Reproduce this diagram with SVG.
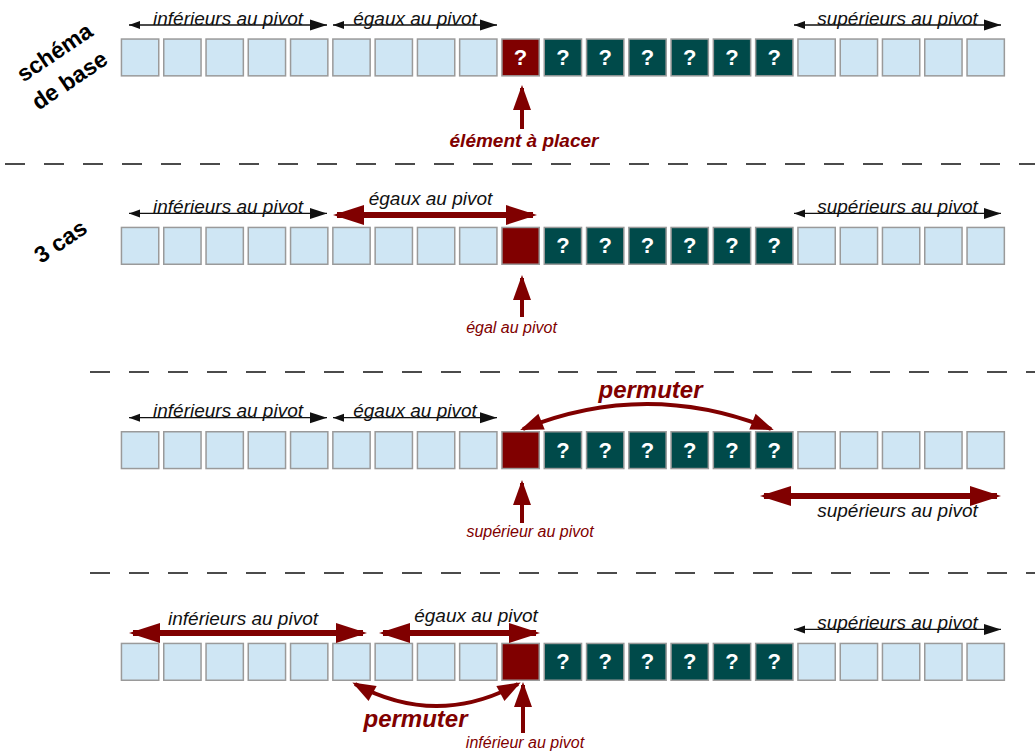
<svg xmlns="http://www.w3.org/2000/svg" width="1035" height="753" viewBox="0 0 1035 753">
<style>
.c{fill:#cfe6f4;stroke:#9a9a9a;stroke-width:1.5}
.p{fill:#800000;stroke:#9a9a9a;stroke-width:1.5}
.t{fill:#004a4a;stroke:#9a9a9a;stroke-width:1.5}
.q{font-family:"Liberation Sans",Arial,sans-serif;font-weight:bold;font-size:22px;fill:#fff;text-anchor:middle}
.lbl{font-family:"Liberation Sans",Arial,sans-serif;font-style:italic;font-size:19px;fill:#111;text-anchor:middle}
.rs{font-family:"Liberation Sans",Arial,sans-serif;font-style:italic;font-size:16px;fill:#800000;text-anchor:middle}
.rb{font-family:"Liberation Sans",Arial,sans-serif;font-style:italic;font-weight:bold;font-size:19px;fill:#800000;text-anchor:middle}
.perm{font-family:"Liberation Sans",Arial,sans-serif;font-style:italic;font-weight:bold;font-size:24px;fill:#800000;text-anchor:middle}
.side{font-family:"Liberation Sans",Arial,sans-serif;font-weight:bold;font-size:23px;fill:#000;text-anchor:middle}
.bk{fill:none;stroke:#111;stroke-width:1.3;marker-start:url(#bs);marker-end:url(#bl)}
.rd{fill:none;stroke:#800000;stroke-width:6;marker-start:url(#rh);marker-end:url(#rh)}
.up{fill:none;stroke:#800000;stroke-width:4;marker-end:url(#uh)}
.cv{fill:none;stroke:#800000;stroke-width:4;marker-start:url(#ch);marker-end:url(#ch)}
.dash{fill:none;stroke:#111;stroke-width:1.3;stroke-dasharray:20 19}
</style>
<defs>
<marker id="bs" markerUnits="userSpaceOnUse" orient="auto-start-reverse" overflow="visible" markerWidth="20" markerHeight="20" refX="0" refY="0"><path d="M0,0 L-11,-4 L-11,4 Z" fill="#111"/></marker>
<marker id="bl" markerUnits="userSpaceOnUse" orient="auto-start-reverse" overflow="visible" markerWidth="20" markerHeight="20" refX="0" refY="0"><path d="M0,0 L-17,-5.5 L-17,5.5 Z" fill="#111"/></marker>
<marker id="rh" markerUnits="userSpaceOnUse" orient="auto-start-reverse" overflow="visible" markerWidth="40" markerHeight="40" refX="0" refY="0"><path d="M4,0 L-27,-10 L-27,10 Z" fill="#800000"/></marker>
<marker id="uh" markerUnits="userSpaceOnUse" orient="auto" overflow="visible" markerWidth="40" markerHeight="40" refX="0" refY="0"><path d="M3,0 L-22,-9 L-22,9 Z" fill="#800000"/></marker>
<marker id="ch" markerUnits="userSpaceOnUse" orient="auto-start-reverse" overflow="visible" markerWidth="40" markerHeight="40" refX="0" refY="0"><path d="M3,0 L-20,-8.5 L-20,8.5 Z" fill="#800000"/></marker>
<g id="cells">
<rect class="c" x="121.45" y="0.75" width="37.3" height="36.8"/>
<rect class="c" x="163.75" y="0.75" width="37.3" height="36.8"/>
<rect class="c" x="206.05" y="0.75" width="37.3" height="36.8"/>
<rect class="c" x="248.25" y="0.75" width="37.3" height="36.8"/>
<rect class="c" x="290.55" y="0.75" width="37.3" height="36.8"/>
<rect class="c" x="332.85" y="0.75" width="37.3" height="36.8"/>
<rect class="c" x="375.15" y="0.75" width="37.3" height="36.8"/>
<rect class="c" x="417.45" y="0.75" width="37.3" height="36.8"/>
<rect class="c" x="459.65" y="0.75" width="37.3" height="36.8"/>
<rect class="p" x="501.95" y="0.75" width="37.3" height="36.8"/>
<rect class="t" x="544.25" y="0.75" width="37.3" height="36.8"/>
<rect class="t" x="586.55" y="0.75" width="37.3" height="36.8"/>
<rect class="t" x="628.85" y="0.75" width="37.3" height="36.8"/>
<rect class="t" x="671.05" y="0.75" width="37.3" height="36.8"/>
<rect class="t" x="713.35" y="0.75" width="37.3" height="36.8"/>
<rect class="t" x="755.65" y="0.75" width="37.3" height="36.8"/>
<rect class="c" x="797.95" y="0.75" width="37.3" height="36.8"/>
<rect class="c" x="840.25" y="0.75" width="37.3" height="36.8"/>
<rect class="c" x="882.45" y="0.75" width="37.3" height="36.8"/>
<rect class="c" x="924.75" y="0.75" width="37.3" height="36.8"/>
<rect class="c" x="967.05" y="0.75" width="37.3" height="36.8"/>
<text class="q" x="562.9" y="26.7">?</text>
<text class="q" x="605.2" y="26.7">?</text>
<text class="q" x="647.5" y="26.7">?</text>
<text class="q" x="689.7" y="26.7">?</text>
<text class="q" x="732.0" y="26.7">?</text>
<text class="q" x="774.3" y="26.7">?</text>
</g>
</defs>
<rect width="1035" height="753" fill="#fff"/>

<g id="side-labels">
<text class="side" transform="translate(55,53) rotate(-34)" x="0" y="7">schéma</text>
<text class="side" transform="translate(70,81) rotate(-34)" x="0" y="7">de base</text>
<text class="side" transform="translate(61,242) rotate(-34)" x="0" y="7">3 cas</text>
</g>

<g id="separators">
<path class="dash" d="M5,164 H1035"/>
<path class="dash" d="M90,372 H1035"/>
<path class="dash" d="M90,573 H1035"/>
</g>

<g id="row1" transform="translate(0,38.3)">
<use href="#cells"/>
<text class="q" x="520.6" y="26.7">?</text>
</g>
<g id="row2" transform="translate(0,226.7)"><use href="#cells"/></g>
<g id="row3" transform="translate(0,431)"><use href="#cells"/></g>
<g id="row4" transform="translate(0,642.7)"><use href="#cells"/></g>

<g id="connectors">
<path class="bk" d="M129,25 H327"/>
<path class="bk" d="M333,25 H497"/>
<path class="bk" d="M794,25 H1001"/>
<path class="up" d="M522,129 V88"/>
<path class="bk" d="M129,213.4 H327"/>
<path class="bk" d="M794,213.4 H1001"/>
<path class="rd" d="M337,215 H533"/>
<path class="up" d="M522,317 V278"/>
<path class="bk" d="M129,417.7 H327"/>
<path class="bk" d="M333,417.7 H497"/>
<path class="rd" d="M764,496 H997"/>
<path class="cv" d="M523,429 Q647,379 771,429"/>
<path class="up" d="M522,523 V483"/>
<path class="bk" d="M794,629.4 H1001"/>
<path class="rd" d="M133,633 H363"/>
<path class="rd" d="M383,633 H536"/>
<path class="cv" d="M518,684 Q436.5,728 355,684"/>
<path class="up" d="M523,733 V685"/>
</g>

<g id="labels">
<text class="lbl" x="228" y="24.5">inférieurs au pivot</text>
<text class="lbl" x="415" y="24.5">égaux au pivot</text>
<text class="lbl" x="897.5" y="24.5">supérieurs au pivot</text>
<text class="rb" x="524" y="147">élément à placer</text>
<text class="lbl" x="228" y="212.9">inférieurs au pivot</text>
<text class="lbl" x="897.5" y="212.9">supérieurs au pivot</text>
<text class="lbl" x="430.5" y="205">égaux au pivot</text>
<text class="rs" x="511.5" y="333">égal au pivot</text>
<text class="lbl" x="228" y="417.2">inférieurs au pivot</text>
<text class="lbl" x="415" y="417.2">égaux au pivot</text>
<text class="perm" x="650.5" y="398">permuter</text>
<text class="lbl" x="897.5" y="517">supérieurs au pivot</text>
<text class="rs" x="530" y="537">supérieur au pivot</text>
<text class="lbl" x="897.5" y="628.9">supérieurs au pivot</text>
<text class="lbl" x="243" y="625">inférieurs au pivot</text>
<text class="lbl" x="476" y="622">égaux au pivot</text>
<text class="perm" x="415.5" y="727">permuter</text>
<text class="rs" x="525" y="748">inférieur au pivot</text>
</g>
</svg>
